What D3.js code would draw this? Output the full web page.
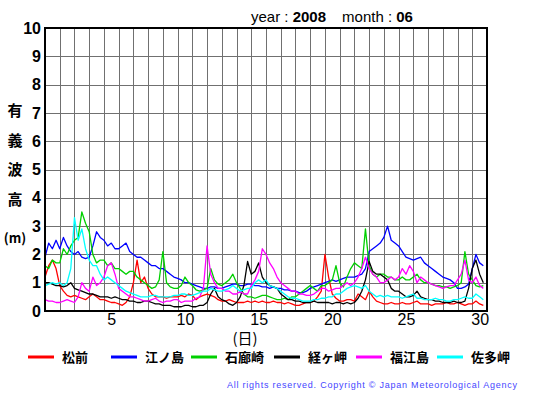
<!DOCTYPE html>
<html>
<head>
<meta charset="utf-8">
<script src="https://cdn.jsdelivr.net/npm/d3@7"></script>
<style>
  body { margin: 0; background: #fff; }
  svg text { font-family: "Liberation Sans", Arial, sans-serif; }
  .jp { font-family: "Noto Sans CJK JP", sans-serif; }
</style>
</head>
<body>
<svg id="chart"></svg>
<script>
// Chart size
const width = 555;
const height = 395;

// Title values
const yearLabel = "2008";
const monthLabel = "06";

// y tick labels (m) and x tick labels (day)
const yTicks = [0, 1, 2, 3, 4, 5, 6, 7, 8, 9, 10];
const xTickDays = [5, 10, 15, 20, 25, 30];

// station names, same order as the legend
const stations = ["松前", "江ノ島", "石廊崎", "経ヶ岬", "福江島", "佐多岬"];
const colors = ["#ff0000", "#0000ff", "#00d000", "#000000", "#ff00ff", "#00ffff"];

// significant wave height (m), one value every 6 hours, 4 per day, June 1..30
const matsumae = [
  1.2,1.6,1.8,1.5, 0.9,0.7,0.55,0.5, 0.55,0.5,0.45,0.4, 0.5,0.6,0.5,0.4, 0.4,0.35,0.3,0.3,
  0.25,0.2,0.3,0.5, 1.0,1.8,1.0,1.2, 0.8,0.6,0.5,0.5, 0.5,0.45,0.5,0.5, 0.5,0.55,0.5,0.6,
  0.55,0.4,0.5,0.55, 0.6,0.55,0.5,0.4, 0.35,0.35,0.4,0.35, 0.3,0.3,0.3,0.35, 0.3,0.35,0.3,0.35,
  0.3,0.3,0.35,0.3, 0.3,0.25,0.3,0.25, 0.2,0.2,0.25,0.3, 0.3,0.35,0.5,0.7, 2.0,1.2,0.6,0.45,
  0.35,0.35,0.4,0.4, 0.35,0.6,0.5,0.4, 0.7,0.5,0.35,0.3, 0.25,0.25,0.3,0.25, 0.25,0.3,0.25,0.25,
  0.3,0.35,0.25,0.25, 0.25,0.2,0.25,0.25, 0.25,0.3,0.25,0.25, 0.3,0.25,0.2,0.25, 0.25,0.35,0.25,0.2
];
const enoshima = [
  1.9,2.4,2.2,2.5, 2.2,2.6,2.3,2.1, 2.0,2.1,1.9,1.85, 1.9,2.3,2.8,2.6, 2.5,2.3,2.4,2.2,
  2.2,2.3,2.4,2.1, 2.0,1.9,1.9,1.8, 1.7,1.6,1.6,1.5, 1.5,1.4,1.3,1.2, 1.15,1.1,1.0,1.0,
  0.95,0.9,0.85,0.8, 0.8,0.85,0.85,0.8, 0.8,0.85,0.9,0.95, 0.95,0.9,0.9,0.95, 0.95,0.9,0.9,0.85,
  0.85,0.8,0.85,0.8, 0.8,0.75,0.75,0.7, 0.7,0.65,0.65,0.7, 0.8,0.85,0.9,0.95, 1.0,1.05,1.1,1.05,
  1.1,1.15,1.2,1.2, 1.2,1.25,1.3,1.5, 2.1,2.2,2.3,2.4, 2.6,3.0,2.5,2.4, 2.3,2.1,1.9,1.85,
  1.8,1.85,1.9,1.7, 1.6,1.5,1.4,1.3, 1.2,1.15,1.1,1.0, 0.8,0.8,0.85,0.95, 1.5,2.0,1.7,1.6
];
const irozaki = [
  1.6,1.5,1.8,1.7, 1.7,2.2,2.0,2.3, 2.5,2.6,3.5,3.1, 2.8,2.0,1.7,1.8, 1.8,1.6,1.7,1.5,
  1.5,1.4,1.3,1.4, 1.4,1.2,1.1,1.0, 0.9,0.8,0.85,1.1, 2.1,1.0,0.85,0.8, 0.8,0.9,1.2,1.0,
  0.9,0.75,0.7,0.75, 0.8,1.5,1.1,0.95, 0.9,1.0,1.1,1.3, 1.0,0.8,0.6,0.5, 0.5,0.45,0.5,0.55,
  0.55,0.5,0.45,0.4, 0.4,0.45,0.4,0.5, 0.5,0.6,0.7,0.8, 0.9,0.8,0.7,0.9, 0.9,1.0,1.1,1.6,
  1.0,0.85,1.2,1.5, 1.7,1.6,1.5,2.9, 1.6,1.3,1.2,1.3, 1.3,1.2,1.2,1.1, 1.1,1.2,1.1,1.1,
  1.2,1.3,1.1,1.0, 1.0,0.95,0.9,0.9, 0.85,0.85,0.8,0.85, 0.9,1.0,2.1,1.3, 1.1,0.9,0.85,0.9
];
const kyogamisaki = [
  1.0,1.0,0.95,0.9, 0.9,0.85,0.9,1.0, 0.8,0.75,0.7,0.65, 0.6,0.6,0.55,0.5, 0.5,0.5,0.45,0.5,
  0.45,0.4,0.4,0.35, 0.35,0.3,0.3,0.35, 0.35,0.3,0.25,0.25, 0.2,0.2,0.2,0.15, 0.15,0.15,0.2,0.2,
  0.15,0.15,0.2,0.2, 0.3,0.6,0.8,0.5, 0.4,0.35,0.25,0.2, 0.3,0.5,0.9,1.75, 1.3,1.4,1.7,1.2,
  1.0,0.9,0.85,0.8, 0.6,0.5,0.4,0.4, 0.35,0.35,0.3,0.3, 0.3,0.35,0.3,0.3, 0.3,0.3,0.25,0.3,
  0.3,0.25,0.3,0.25, 0.3,0.45,0.7,1.1, 1.75,1.4,1.3,1.3, 1.2,1.1,0.8,0.7, 0.7,0.6,0.5,0.5,
  0.55,0.7,0.5,0.45, 0.4,0.4,0.35,0.35, 0.3,0.3,0.3,0.35, 0.3,0.3,0.35,0.8, 1.5,1.8,1.3,1.0
];
const fukuejima = [
  0.4,0.35,0.35,0.3, 0.3,0.35,0.4,0.35, 0.3,0.5,1.0,0.8, 0.7,1.2,0.9,1.0, 1.2,1.6,1.7,1.3,
  0.8,0.7,0.6,0.5, 0.5,0.45,0.4,0.35, 0.35,0.4,0.45,0.35, 0.3,0.35,0.35,0.4, 0.4,0.3,0.35,0.35,
  0.35,0.45,0.5,0.8, 2.3,1.3,1.0,0.8, 0.8,0.7,0.7,0.6, 0.6,0.7,0.6,0.6, 0.9,1.1,1.4,2.2,
  2.0,1.7,1.5,1.2, 1.0,0.9,0.8,0.7, 0.7,0.6,0.6,0.55, 0.55,0.6,0.7,0.8, 0.8,0.7,0.75,0.8,
  0.8,0.9,1.0,0.9, 1.0,1.2,1.5,1.9, 1.5,1.3,1.2,1.0, 1.0,1.1,1.2,1.1, 1.2,1.5,1.3,1.6,
  1.4,1.0,1.2,1.1, 1.0,0.95,0.9,0.85, 0.8,0.85,0.9,0.9, 1.1,1.3,1.8,1.1, 1.0,1.2,0.9,0.8
];
const satamisaki = [
  0.9,0.95,1.0,0.95, 1.0,0.9,1.0,1.5, 3.3,2.5,2.9,2.2, 1.8,1.6,1.6,1.3, 1.1,1.2,1.1,1.0,
  0.9,0.8,0.7,0.65, 0.6,0.55,0.5,0.5, 0.5,0.55,0.55,0.5, 0.5,0.5,0.5,0.55, 0.55,0.6,0.6,0.55,
  0.55,0.6,0.65,0.7, 0.7,0.8,0.75,0.7, 0.7,0.75,0.8,0.9, 0.8,0.7,0.75,0.8, 0.8,1.0,1.1,1.0,
  1.1,0.9,0.85,0.8, 0.7,0.6,0.5,0.45, 0.45,0.4,0.35,0.35, 0.35,0.4,0.4,0.45, 0.45,0.5,0.5,0.6,
  0.6,0.7,0.8,0.85, 0.9,0.85,0.8,0.9, 0.7,0.6,0.5,0.55, 0.5,0.55,0.5,0.5, 0.5,0.45,0.5,0.55,
  0.6,0.45,0.45,0.4, 0.4,0.4,0.45,0.4, 0.4,0.35,0.35,0.4, 0.4,0.45,0.5,0.45, 0.45,0.6,0.5,0.4
];

const series = [matsumae, enoshima, irozaki, kyogamisaki, fukuejima, satamisaki];
const stepDays = 0.25; // 6-hourly

// Plot area
const plotLeft = 45, plotRight = 487, plotTop = 28, plotBottom = 311;

const svg = d3.select("#chart")
  .attr("width", width)
  .attr("height", height);

const x = d3.scaleLinear().domain([0, 30]).range([plotLeft, plotRight]);
const y = d3.scaleLinear().domain([0, 10]).range([plotBottom, plotTop]);

// grid lines
svg.append("g")
  .attr("transform", `translate(0,${plotBottom})`)
  .call(d3.axisBottom(x).tickValues(d3.range(1, 30)).tickSize(-(plotBottom - plotTop)).tickFormat(""))
  .call(g => g.select(".domain").remove())
  .call(g => g.selectAll("line").attr("stroke", "#707070").attr("stroke-width", 1)
    .attr("shape-rendering", "crispEdges"));

svg.append("g")
  .attr("transform", `translate(${plotLeft},0)`)
  .call(d3.axisLeft(y).tickValues(d3.range(1, 10)).tickSize(-(plotRight - plotLeft)).tickFormat(""))
  .call(g => g.select(".domain").remove())
  .call(g => g.selectAll("line").attr("stroke", "#707070").attr("stroke-width", 1)
    .attr("shape-rendering", "crispEdges"));

// series lines
const line = d3.line()
  .x((d, i) => x(i * stepDays))
  .y(d => y(d));

series.forEach((s, k) => {
  svg.append("path")
    .datum(s)
    .attr("fill", "none")
    .attr("stroke", colors[k])
    .attr("stroke-width", 1.3)
    .attr("stroke-linejoin", "round")
    .attr("d", line);
});

// frame
svg.append("rect")
  .attr("x", plotLeft).attr("y", plotTop)
  .attr("width", plotRight - plotLeft).attr("height", plotBottom - plotTop)
  .attr("fill", "none")
  .attr("stroke", "#000")
  .attr("stroke-width", 2);

// y tick labels
svg.append("g")
  .attr("transform", `translate(${plotLeft},0)`)
  .call(d3.axisLeft(y).tickValues(yTicks).tickSize(0).tickPadding(4))
  .call(g => g.select(".domain").remove())
  .call(g => g.selectAll("text")
    .attr("font-family", "Liberation Sans, Arial, sans-serif")
    .attr("font-size", 16)
    .attr("font-weight", "bold")
    .attr("fill", "#000"));

// x tick labels, centred in the day cell
svg.append("g")
  .attr("transform", `translate(0,${plotBottom})`)
  .call(d3.axisBottom(x).tickValues(xTickDays.map(d => d - 0.5)).tickSize(0).tickPadding(3)
    .tickFormat(d => String(d + 0.5)))
  .call(g => g.select(".domain").remove())
  .call(g => g.selectAll("text")
    .attr("font-family", "Liberation Sans, Arial, sans-serif")
    .attr("font-size", 16)
    .attr("fill", "#000"));

// title
const title = svg.append("text")
  .attr("x", 251).attr("y", 22)
  .attr("font-size", 15)
  .attr("fill", "#000");
title.append("tspan").text("year : ");
title.append("tspan").attr("font-weight", "bold").text(yearLabel);
title.append("tspan").attr("dx", 16).text("month : ");
title.append("tspan").attr("font-weight", "bold").text(monthLabel);

// y axis title, vertical
const yTitle = ["有", "義", "波", "高"];
yTitle.forEach((c, i) => {
  svg.append("text")
    .attr("class", "jp")
    .attr("x", 15).attr("y", 116 + i * 29.5)
    .attr("text-anchor", "middle")
    .attr("font-size", 15)
    .attr("font-weight", "bold")
    .text(c);
});
svg.append("text")
  .attr("class", "jp")
  .attr("x", 15).attr("y", 243)
  .attr("text-anchor", "middle")
  .attr("font-size", 13)
  .attr("font-weight", "bold")
  .text("(m)");

// x axis title
svg.append("text")
  .attr("class", "jp")
  .attr("x", 245).attr("y", 344)
  .attr("text-anchor", "middle")
  .attr("font-size", 15)
  .text("(日)");

// legend
const legendX = [28, 111, 191, 274, 356, 437];
const legend = svg.append("g");
stations.forEach((name, k) => {
  legend.append("line")
    .attr("x1", legendX[k]).attr("x2", legendX[k] + 26)
    .attr("y1", 357).attr("y2", 357)
    .attr("stroke", colors[k])
    .attr("stroke-width", 3);
  legend.append("text")
    .attr("class", "jp")
    .attr("x", legendX[k] + 34).attr("y", 362)
    .attr("font-size", 13)
    .attr("font-weight", "bold")
    .attr("fill", "#000")
    .text(name);
});

// copyright
svg.append("text")
  .attr("x", 227).attr("y", 388)
  .attr("font-family", "DejaVu Sans, sans-serif")
  .attr("font-size", 9)
  .attr("textLength", 290)
  .attr("fill", "#4646ff")
  .text("All rights reserved. Copyright © Japan Meteorological Agency");
</script>
</body>
</html>
